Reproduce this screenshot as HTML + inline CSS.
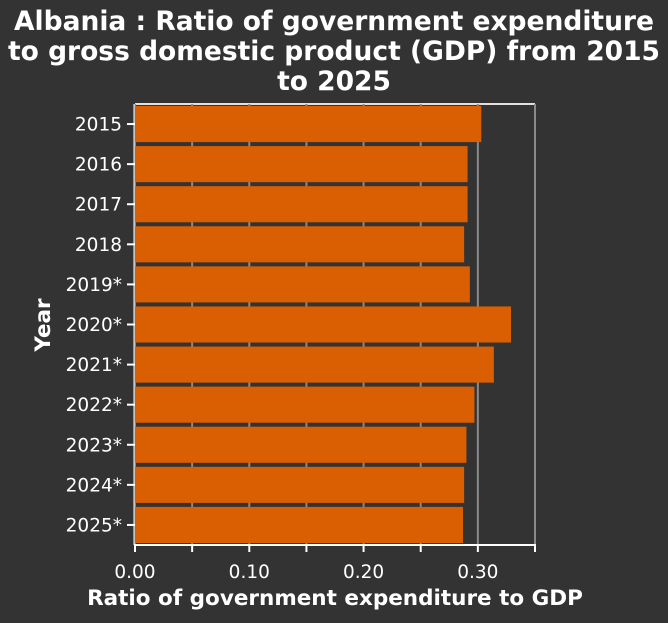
<!DOCTYPE html>
<html><head><meta charset="utf-8"><style>
body{margin:0;background:#333333;}
svg text{font-family:"DejaVu Sans","Liberation Sans",sans-serif;fill:#fff;}
</style></head><body>
<svg id="chart" width="668" height="618" viewBox="0 0 668 618" xmlns="http://www.w3.org/2000/svg">
<rect width="668" height="618" fill="#333333"/>
<text x="334" y="30" text-anchor="middle" font-size="26.5" font-weight="bold">Albania : Ratio of government expenditure</text>
<text x="334" y="60" text-anchor="middle" font-size="26.5" font-weight="bold">to gross domestic product (GDP) from 2015</text>
<text x="334" y="90" text-anchor="middle" font-size="26.5" font-weight="bold">to 2025</text>
<g id="grid"></g><g id="bars"></g><g id="axes"></g>
<text x="335" y="605" text-anchor="middle" font-size="21.5" font-weight="bold">Ratio of government expenditure to GDP</text>
<text transform="translate(50,325) rotate(-90)" text-anchor="middle" font-size="21.5" font-weight="bold">Year</text>
</svg>
<script>
const categories=["2015","2016","2017","2018","2019*","2020*","2021*","2022*","2023*","2024*","2025*"];
const values=[0.303,0.291,0.291,0.288,0.293,0.329,0.314,0.297,0.290,0.288,0.287];
const xTicks=[0,0.05,0.10,0.15,0.20,0.25,0.30,0.35];
const xTickLabels=["0.00","","0.10","","0.20","","0.30",""];
const L=135,R=535,T=104,B=545,XMAX=0.35;
const x=v=>L+(R-L)*v/XMAX;
const band=(B-T)/categories.length;
const y=i=>T+band*i;
const NS="http://www.w3.org/2000/svg";
function mk(tag,attrs,parent){const e=document.createElementNS(NS,tag);for(const k in attrs)e.setAttribute(k,attrs[k]);document.getElementById(parent).appendChild(e);return e;}
mk('line',{x1:L,x2:R,y1:T,y2:T,stroke:'#e0e0e0','stroke-width':2},'grid');
xTicks.forEach((t,i)=>{
 const g=mk('line',{x1:x(t),x2:x(t),y1:T,y2:B,stroke:'#8a8a8a','stroke-width':2},'grid');
 
 
 const tk=mk('line',{x1:x(t),x2:x(t),y1:B,y2:B+7,stroke:'#fff','stroke-width':2},'axes');
 
 
 if(xTickLabels[i]){const tx=mk('text',{x:x(t),y:B+33,'text-anchor':'middle','font-size':18.5},'axes');tx.textContent=xTickLabels[i];
 
 }
});
categories.forEach((c,i)=>{
 const b=mk('rect',{x:L,y:y(i)+2,width:x(values[i])-L,height:band-4,fill:'#d95f02'},'bars');
 
 
 const cy=y(i)+band/2;
 const tk=mk('line',{x1:L-8,x2:L,y1:cy,y2:cy,stroke:'#fff','stroke-width':2},'axes');
 
 
 const tx=mk('text',{x:L-13,y:cy+6.5,'text-anchor':'end','font-size':18.5},'axes');tx.textContent=c;
 
 
});
const ax=mk('line',{x1:L-1,x2:R+1,y1:B,y2:B,stroke:'#fff','stroke-width':2},'axes');


const ay=mk('line',{x1:L-1,x2:L-1,y1:T,y2:B,stroke:'#fff','stroke-width':1},'axes');


</script>
</body></html>
